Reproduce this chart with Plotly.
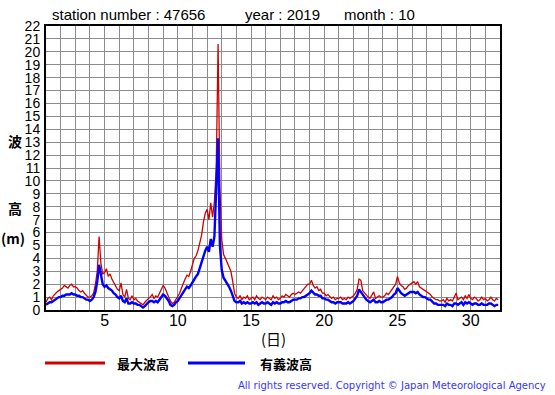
import plotly.graph_objects as go

# 3-hourly readings, 8 per day, October 2019 (days 1..31)
max_wave = [
    0.6, 0.9, 1.0, 0.8, 1.1, 1.3, 1.4, 1.5,   # 1
    1.6, 1.7, 1.9, 1.8, 1.7, 1.9, 2.0, 1.8,   # 2
    1.8, 1.7, 1.5, 1.4, 1.5, 1.3, 1.1, 1.0,   # 3
    1.0, 1.1, 1.3, 2.0, 3.0, 5.7, 3.6, 2.8,   # 4
    2.9, 3.2, 2.6, 2.8, 2.4, 2.1, 1.9, 1.6,   # 5
    1.5, 2.1, 1.2, 1.0, 1.6, 0.9, 0.8, 1.1,   # 6
    0.8, 0.9, 0.7, 0.6, 0.5, 0.4, 0.6, 0.8,   # 7
    0.9, 1.0, 1.2, 0.9, 1.1, 1.0, 1.3, 1.6,   # 8
    1.9, 1.7, 1.3, 1.0, 0.7, 0.5, 0.6, 0.8,   # 9
    1.0, 1.3, 1.7, 2.1, 2.4, 2.7, 2.6, 3.0,   # 10
    3.6, 4.0, 4.2, 4.6, 5.2, 5.8, 6.8, 7.5,   # 11
    7.8, 7.0, 8.3, 7.2, 8.4, 11.0, 20.6, 9.5, # 12
    5.5, 4.3, 4.0, 3.7, 3.4, 3.0, 2.2, 1.3,   # 13
    1.0, 0.9, 1.1, 0.8, 1.0, 0.9, 1.1, 0.8,   # 14
    0.9, 1.0, 0.8, 1.1, 0.9, 0.8, 1.0, 0.9,   # 15
    0.8, 1.0, 0.9, 0.8, 1.1, 0.9, 1.0, 0.8,   # 16
    0.9, 1.1, 1.0, 1.2, 1.1, 1.0, 1.2, 1.3,   # 17
    1.2, 1.3, 1.4, 1.3, 1.5, 1.6, 1.8, 2.0,   # 18
    2.0, 2.3, 1.9, 1.7, 1.8, 1.5, 1.6, 1.3,   # 19
    1.3, 1.1, 1.2, 1.0, 0.9, 1.0, 0.8, 0.9,   # 20
    0.9, 1.0, 0.8, 0.9, 0.8, 1.0, 0.9, 1.0,   # 21
    1.1, 1.3, 1.6, 2.4, 2.3, 1.5, 1.3, 1.1,   # 22
    1.0, 0.9, 1.1, 1.4, 0.9, 1.0, 1.1, 1.0,   # 23
    1.0, 1.1, 1.3, 1.2, 1.4, 1.6, 1.8, 2.0,   # 24
    2.6, 2.1, 1.9, 1.8, 1.6, 1.7, 1.9, 2.0,   # 25
    2.1, 2.2, 2.0, 2.2, 1.8, 1.7, 1.6, 1.5,   # 26
    1.4, 1.3, 1.2, 1.0, 0.9, 0.8, 0.8, 0.7,   # 27
    0.7, 0.8, 0.6, 0.9, 0.7, 0.8, 0.7, 1.0,   # 28
    1.3, 0.8, 0.9, 1.0, 0.8, 1.1, 0.9, 1.2,   # 29
    0.9, 0.8, 1.0, 0.9, 0.7, 0.8, 1.0, 0.8,   # 30
    0.9, 0.7, 0.8, 1.0, 0.8, 0.7, 0.9, 0.8,   # 31
]

sig_wave = [
    0.4, 0.5, 0.6, 0.6, 0.7, 0.8, 0.9, 1.0,   # 1
    1.0, 1.1, 1.1, 1.2, 1.2, 1.2, 1.3, 1.2,   # 2
    1.2, 1.1, 1.1, 1.0, 1.0, 0.9, 0.8, 0.8,   # 3
    0.7, 0.8, 1.0, 1.4, 2.2, 3.5, 2.6, 2.0,   # 4
    1.8, 1.9, 1.7, 1.6, 1.5, 1.3, 1.2, 1.0,   # 5
    0.9, 1.1, 0.7, 0.6, 0.9, 0.5, 0.5, 0.6,   # 6
    0.5, 0.5, 0.4, 0.4, 0.3, 0.2, 0.3, 0.5,   # 7
    0.6, 0.7, 0.7, 0.6, 0.7, 0.6, 0.8, 1.0,   # 8
    1.2, 1.1, 0.9, 0.7, 0.4, 0.3, 0.4, 0.6,   # 9
    0.7, 0.9, 1.1, 1.4, 1.6, 1.8, 1.7, 1.9,   # 10
    2.1, 2.3, 2.6, 2.8, 3.3, 3.7, 4.1, 4.6,   # 11
    4.9, 4.5, 5.5, 4.9, 5.7, 9.0, 13.3, 5.0,  # 12
    3.1, 2.5, 2.3, 2.0, 1.8, 1.5, 1.1, 0.7,   # 13
    0.6, 0.6, 0.7, 0.5, 0.6, 0.5, 0.6, 0.5,   # 14
    0.5, 0.6, 0.5, 0.6, 0.4, 0.5, 0.6, 0.5,   # 15
    0.5, 0.6, 0.5, 0.4, 0.6, 0.5, 0.6, 0.5,   # 16
    0.5, 0.6, 0.6, 0.7, 0.6, 0.6, 0.7, 0.8,   # 17
    0.8, 0.8, 0.9, 0.9, 1.0, 1.0, 1.1, 1.2,   # 18
    1.3, 1.5, 1.3, 1.2, 1.2, 1.1, 1.1, 0.9,   # 19
    0.9, 0.8, 0.8, 0.7, 0.6, 0.6, 0.5, 0.6,   # 20
    0.6, 0.6, 0.5, 0.5, 0.5, 0.6, 0.5, 0.6,   # 21
    0.7, 0.9, 1.1, 1.6, 1.4, 1.1, 0.9, 0.8,   # 22
    0.7, 0.6, 0.7, 0.8, 0.6, 0.6, 0.7, 0.6,   # 23
    0.6, 0.7, 0.8, 0.8, 0.9, 1.0, 1.2, 1.3,   # 24
    1.7, 1.5, 1.3, 1.2, 1.1, 1.2, 1.3, 1.4,   # 25
    1.4, 1.4, 1.3, 1.4, 1.2, 1.1, 1.0, 1.0,   # 26
    0.9, 0.8, 0.8, 0.6, 0.5, 0.5, 0.4, 0.4,   # 27
    0.4, 0.4, 0.3, 0.5, 0.4, 0.4, 0.3, 0.5,   # 28
    0.5, 0.4, 0.5, 0.6, 0.4, 0.6, 0.5, 0.6,   # 29
    0.5, 0.4, 0.5, 0.5, 0.4, 0.4, 0.5, 0.4,   # 30
    0.4, 0.4, 0.5, 0.5, 0.4, 0.3, 0.4, 0.4,   # 31
]

days = list(range(1, 32))
times = [d + k / 8 for d in days for k in range(8)]

x_ticks = list(range(1, 33))
x_labels = [str(v) if v % 5 == 0 else "" for v in x_ticks]
y_ticks = list(range(0, 23))

title_parts = ["station number : 47656", "year : 2019", "month : 10"]
legend_names = ["最大波高", "有義波高"]
ylabel_chars = ["波", "高", "(m)"]
xlabel = "(日)"
copyright_text = "All rights reserved. Copyright © Japan Meteorological Agency"

W, H = 555, 395
L, R, T, B = 46, 500, 26, 310


def px(x):
    return (x - L) / (R - L)


def py(y):
    return (B - y) / (B - T)


fig = go.Figure()
fig.add_trace(go.Scatter(x=times, y=max_wave, mode="lines",
                         line=dict(color="#d00000", width=1.3),
                         name=legend_names[0], showlegend=False))
fig.add_trace(go.Scatter(x=times, y=sig_wave, mode="lines",
                         line=dict(color="#0000ff", width=2.4),
                         name=legend_names[1], showlegend=False))

font_main = "Liberation Sans, Arial, sans-serif"
font_cjk = "Noto Sans CJK JP, sans-serif"

fig.update_layout(
    width=W, height=H,
    margin=dict(l=L, r=W - R, t=T, b=H - B, pad=0),
    paper_bgcolor="white", plot_bgcolor="white",
    font=dict(family=font_main, size=15, color="black"),
    xaxis=dict(range=[1, 32], tickmode="array", tickvals=x_ticks, ticktext=x_labels,
               showgrid=True, gridcolor="#8c8c8c", gridwidth=1, zeroline=False,
               showline=True, linecolor="black", linewidth=2, mirror=True,
               automargin=False, ticklabelstandoff=-5,
               ticks="", tickfont=dict(size=16, family=font_main)),
    yaxis=dict(range=[0, 22], tickmode="array", tickvals=y_ticks,
               showgrid=True, gridcolor="#8c8c8c", gridwidth=1, zeroline=False,
               showline=True, linecolor="black", linewidth=2, mirror=True,
               automargin=False,
               ticks="", ticklabelstandoff=1, tickfont=dict(size=14, family=font_main)),
)

ann = []
# title
for text, x0 in zip(title_parts, [50, 243, 342]):
    ann.append(dict(text=text, x=px(x0), y=py(15), xref="paper", yref="paper",
                    xanchor="left", yanchor="middle", showarrow=False,
                    font=dict(size=15, family=font_main, color="black")))
# y label
for ch, yy, xx in zip(ylabel_chars, [141, 208, 238], [15, 15, 13]):
    ann.append(dict(text="<b>%s</b>" % ch, x=px(xx), y=py(yy), xref="paper", yref="paper",
                    xanchor="center", yanchor="middle", showarrow=False,
                    font=dict(size=14, family=font_cjk, color="black")))
# x label
ann.append(dict(text=xlabel, x=px(273), y=py(338), xref="paper", yref="paper",
                xanchor="center", yanchor="middle", showarrow=False,
                font=dict(size=15, family=font_cjk, color="black")))
# legend
for name, x0 in zip(legend_names, [115, 258]):
    ann.append(dict(text="<b>%s</b>" % name, x=px(x0), y=py(363), xref="paper", yref="paper",
                    xanchor="left", yanchor="middle", showarrow=False,
                    font=dict(size=13, family=font_cjk, color="black")))
# copyright
ann.append(dict(text=copyright_text, x=px(548), y=py(385), xref="paper", yref="paper",
                xanchor="right", yanchor="middle", showarrow=False,
                font=dict(size=10, family="DejaVu Sans, sans-serif", color="#3636ff")))
fig.update_layout(annotations=ann)

shapes = [
    dict(type="line", xref="paper", yref="paper", x0=px(45), x1=px(105), y0=py(363), y1=py(363),
         line=dict(color="#d00000", width=3)),
    dict(type="line", xref="paper", yref="paper", x0=px(188), x1=px(245), y0=py(363), y1=py(363),
         line=dict(color="#0000ff", width=3)),
]
fig.update_layout(shapes=shapes)

fig.write_html("out.html", config={"displayModeBar": False},
               post_script="document.body.style.margin='0';document.body.style.padding='0';")
